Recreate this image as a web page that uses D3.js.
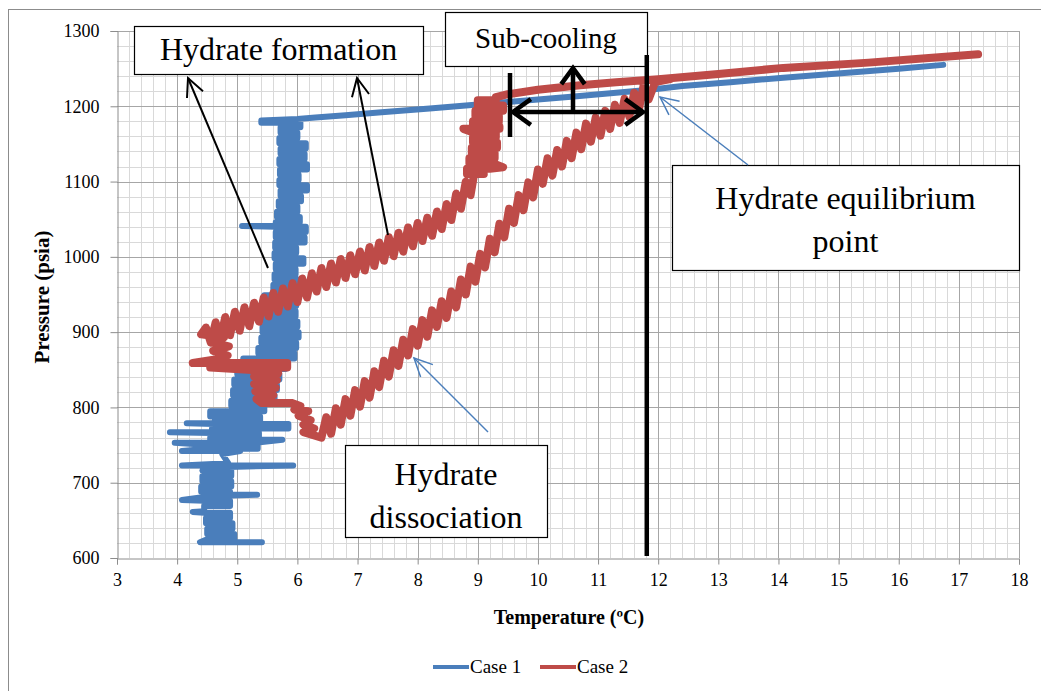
<!DOCTYPE html>
<html>
<head>
<meta charset="utf-8">
<script src="https://cdn.jsdelivr.net/npm/d3@7"></script>
<style>
  html, body { margin: 0; padding: 0; background: #ffffff; }
  svg { display: block; }
  text { font-family: "Liberation Serif", "Times New Roman", serif; fill: #000; }
</style>
</head>
<body>
<svg id="chart" width="1041" height="691"></svg>
<script>
// Axis ticks
const tempTicks = [3, 4, 5, 6, 7, 8, 9, 10, 11, 12, 13, 14, 15, 16, 17, 18];
const pressureTicks = [600, 700, 800, 900, 1000, 1100, 1200, 1300];

const seriesNames = ["Case 1", "Case 2"];
const seriesColors = ["#4A7EBB", "#BE4B48"];

// Case 1 logged readings: [temperature ºC, pressure psia]
const caseOne = [
  [16.74,1255],[16.0,1250],[15.2,1245],[14.08,1238],[13.2,1232],[12.4,1227],[11.86,1222],
  [11.3,1218],[10.6,1213],[10.0,1209],[9.4,1205],[8.8,1201],[8.2,1197],[7.4,1192],[6.8,1188],
  [6.3,1185],[6.0,1183],[5.40,1181],[5.40,1178],[6.05,1178],[6.05,1172],[5.72,1172],[5.72,1165],
  [6.00,1165],[6.00,1158],[5.70,1158],[5.70,1151],[6.14,1151],[6.14,1144],[5.72,1144],[5.72,1137],
  [6.12,1137],[6.12,1130],[5.70,1130],[5.70,1123],[6.16,1123],[6.16,1116],[5.71,1116],[5.71,1109],
  [6.02,1109],[6.02,1102],[5.70,1102],[5.70,1095],[6.16,1095],[6.16,1088],[5.72,1088],[5.72,1081],
  [6.06,1081],[6.06,1074],[5.69,1074],[5.69,1067],[6.00,1067],[6.00,1060],[5.66,1060],[5.66,1053],
  [6.04,1053],[6.04,1046],[5.64,1046],[5.64,1041],[5.08,1041],[5.64,1040],[6.14,1040],[6.14,1033],
  [5.64,1033],[5.64,1026],[6.12,1026],[6.12,1019],[5.63,1019],[5.63,1012],[5.98,1012],[5.98,1005],
  [5.62,1005],[5.62,998],[6.10,998],[6.10,991],[5.64,991],[5.64,984],[5.97,984],[5.97,977],
  [5.62,977],[5.62,970],[6.08,970],[6.08,963],[5.60,963],[5.60,956],[5.98,956],[5.98,949],
  [5.45,949],[5.45,942],[5.98,942],[5.98,935],[5.48,935],[5.48,928],[5.97,928],[5.97,921],
  [5.45,921],[5.45,914],[6.00,914],[6.00,907],[5.42,907],[5.42,900],[6.02,900],[6.02,893],
  [5.40,893],[5.40,886],[5.98,886],[5.98,879],[5.35,879],[5.35,872],[5.95,872],[5.95,865],
  [5.10,865],[5.10,858],[5.80,858],[5.80,851],[5.00,851],[5.00,844],[5.70,844],[5.70,837],
  [4.95,837],[4.95,830],[5.66,830],[5.66,823],[4.93,823],[4.93,816],[5.62,816],[5.62,809],
  [4.90,809],[4.90,802],[5.45,802],[5.45,795],[4.55,795],[4.55,788],[5.38,788],[5.38,781],
  [4.62,781],[4.62,779],[4.16,779],[4.62,778],[5.85,778],[5.85,772],[4.58,772],[4.58,767],
  [3.88,767],[4.58,766],[5.36,766],[5.36,760],[4.55,760],[4.55,757],[5.75,757],[5.30,753],
  [3.96,753],[4.52,750],[5.34,750],[5.34,745],[4.50,745],[4.08,742],[5.05,742],[4.75,738],
  [4.85,726],[4.08,723],[5.93,723],[4.85,721],[4.42,716],[4.90,716],[4.90,709],[4.42,709],
  [4.42,702],[4.90,702],[4.90,695],[4.40,695],[4.40,688],[4.88,688],[4.88,684],[5.33,684],
  [4.88,683],[4.45,681],[4.08,677],[4.45,676],[4.88,676],[4.88,669],[4.45,669],[4.45,662],
  [4.26,661],[4.45,660],[4.88,660],[4.88,653],[4.48,653],[4.48,646],[4.92,646],[4.92,639],
  [4.50,639],[4.50,632],[4.95,632],[4.95,625],[4.50,625],[4.38,621],[5.41,621]
];

// Case 2 logged readings: [temperature ºC, pressure psia]
const caseTwo = [
  [17.32,1269],[16.5,1264],[15.5,1258],[14.08,1251],[13.0,1243],[12.0,1236],[11.3,1232],
  [10.7,1228],[10.0,1222],[9.5,1216],[9.30,1212],[9.30,1208],[9.00,1208],[9.00,1201],[9.42,1201],
  [9.42,1194],[8.96,1194],[8.96,1187],[9.35,1187],[9.35,1180],[8.92,1180],[8.92,1173],[9.36,1173],
  [9.36,1170],[8.76,1170],[8.90,1166],[9.30,1166],[9.30,1159],[8.92,1159],[8.92,1152],[9.32,1152],
  [9.32,1145],[8.90,1145],[8.90,1138],[9.28,1138],[9.28,1131],[8.86,1131],[8.86,1124],[9.26,1124],
  [9.42,1119],[9.20,1117],[8.82,1117],[8.82,1110],[9.10,1110],
  [8.96,1120],[8.88,1082],[8.80,1100],[8.72,1064],[8.64,1084],[8.56,1049],[8.48,1070],[8.40,1037],
  [8.32,1060],[8.24,1028],[8.16,1052],[8.08,1021],[8.00,1045],[7.92,1014],[7.84,1039],[7.76,1007],
  [7.68,1032],[7.60,1001],[7.52,1026],[7.44,995],[7.36,1019],[7.28,988],[7.20,1013],[7.12,982],
  [7.04,1007],[6.96,977],[6.88,1002],[6.80,972],[6.72,997],[6.64,966],[6.56,991],[6.48,960],
  [6.40,985],[6.32,954],[6.24,978],[6.16,946],[6.08,971],[6.00,940],[5.92,965],[5.84,934],
  [5.76,958],[5.68,927],[5.60,952],[5.52,921],[5.44,946],[5.36,914],[5.28,939],[5.20,908],
  [5.12,933],[5.04,902],[4.96,927],[4.88,896],[4.80,920],[4.72,890],[4.64,913],[4.56,886],
  [4.48,906],[4.40,897],
  [4.78,893],[4.60,886],[4.86,881],[4.60,875],[4.84,869],[4.66,864],[4.26,859],[5.83,859],
  [5.83,853],[4.55,853],[5.40,849],[5.68,845],[5.28,841],[5.66,836],[5.28,831],[5.64,826],
  [5.30,821],[5.60,816],[5.32,811],[5.40,806],[5.90,806],[6.05,802],[5.95,797],[6.18,795],
  [6.02,789],[6.22,783],[6.10,777],[6.28,772],[6.10,767],
  [6.40,760],[6.48,787],[6.56,765],[6.64,799],[6.72,777],[6.80,811],[6.88,789],[6.96,823],
  [7.04,801],[7.12,835],[7.20,813],[7.28,848],[7.36,827],[7.44,862],[7.52,841],[7.60,876],
  [7.68,855],[7.76,890],[7.84,869],[7.92,904],[8.00,882],[8.08,916],[8.16,894],[8.24,929],
  [8.32,907],[8.40,941],[8.48,919],[8.56,954],[8.64,933],[8.72,970],[8.80,950],[8.88,987],
  [8.96,967],[9.04,1004],[9.12,986],[9.20,1024],[9.28,1006],[9.36,1044],[9.44,1026],[9.52,1064],
  [9.60,1045],[9.68,1082],[9.76,1062],[9.84,1099],[9.92,1079],[10.00,1116],[10.08,1097],[10.16,1131],
  [10.24,1108],[10.32,1142],[10.40,1120],[10.48,1154],[10.56,1131],[10.64,1165],[10.72,1143],[10.80,1177],
  [10.88,1153],[10.96,1185],[11.04,1161],[11.12,1194],[11.20,1170],[11.28,1202],[11.36,1178],[11.44,1210],
  [11.52,1186],[11.60,1218],[11.68,1196],[11.76,1229],[11.84,1209],[11.95,1232],[12.20,1236]
];

const seriesData = [caseOne, caseTwo];
const seriesWidths = [6, 8];

// Hydrate equilibrium temperature marker
const equilibriumTemp = 11.81;

const svg = d3.select("#chart");
const W = 1041, H = 691;
const plot = { left: 117, right: 1019, top: 31, bottom: 558 };

const x = d3.scaleLinear().domain([3, 18]).range([plot.left, plot.right]);
const y = d3.scaleLinear().domain([600, 1300]).range([plot.bottom, plot.top]);

// Outer chart frame
svg.append("rect")
  .attr("x", 8.5).attr("y", 9.5).attr("width", W + 20).attr("height", H + 20)
  .attr("fill", "#fff").attr("stroke", "#8c8c8c").attr("stroke-width", 1);

// Grid: minor then major
const grid = svg.append("g");
const minorX = d3.range(3, 18.001, 0.2).filter(v => Math.abs(v - Math.round(v)) > 1e-6);
const minorY = d3.range(600, 1300.001, 20).filter(v => v % 100 !== 0);
grid.selectAll(".mx").data(minorX).join("line")
  .attr("x1", d => Math.round(x(d)) + 0.5).attr("x2", d => Math.round(x(d)) + 0.5)
  .attr("y1", plot.top).attr("y2", plot.bottom)
  .attr("stroke", "#d9d9d9").attr("stroke-width", 1);
grid.selectAll(".my").data(minorY).join("line")
  .attr("y1", d => Math.round(y(d)) + 0.5).attr("y2", d => Math.round(y(d)) + 0.5)
  .attr("x1", plot.left).attr("x2", plot.right)
  .attr("stroke", "#d9d9d9").attr("stroke-width", 1);
grid.selectAll(".Mx").data(tempTicks.slice(1)).join("line")
  .attr("x1", d => Math.round(x(d)) + 0.5).attr("x2", d => Math.round(x(d)) + 0.5)
  .attr("y1", plot.top).attr("y2", plot.bottom)
  .attr("stroke", "#a6a6a6").attr("stroke-width", 1);
grid.selectAll(".My").data(pressureTicks.slice(1)).join("line")
  .attr("y1", d => Math.round(y(d)) + 0.5).attr("y2", d => Math.round(y(d)) + 0.5)
  .attr("x1", plot.left).attr("x2", plot.right)
  .attr("stroke", "#a6a6a6").attr("stroke-width", 1);

// Axes
const xAxis = d3.axisBottom(x).tickValues(tempTicks).tickSize(6).tickPadding(9).tickFormat(d3.format("d"));
const yAxis = d3.axisLeft(y).tickValues(pressureTicks).tickSize(7).tickPadding(11).tickFormat(d3.format("d"));

const gx = svg.append("g").attr("transform", `translate(0,${plot.bottom + 0.5})`).call(xAxis);
const gy = svg.append("g").attr("transform", `translate(${plot.left + 0.5},0)`).call(yAxis);
[gx, gy].forEach(g => {
  g.select(".domain").attr("stroke", "#8c8c8c");
  g.selectAll(".tick line").attr("stroke", "#8c8c8c");
  g.selectAll(".tick text").attr("font-family", "Liberation Serif").attr("font-size", 18).attr("fill", "#000");
});

// Axis titles
svg.append("text")
  .attr("x", 569).attr("y", 624).attr("text-anchor", "middle")
  .attr("font-size", 20).attr("font-weight", "bold")
  .text("Temperature (ºC)");
svg.append("text")
  .attr("transform", `translate(49,${297}) rotate(-90)`).attr("text-anchor", "middle")
  .attr("font-size", 21).attr("font-weight", "bold")
  .text("Pressure (psia)");

// Series
const line = d3.line().x(d => x(d[0])).y(d => y(d[1]));
seriesData.forEach((data, i) => {
  svg.append("path")
    .datum(data)
    .attr("d", line)
    .attr("fill", "none")
    .attr("stroke", seriesColors[i])
    .attr("stroke-width", seriesWidths[i])
    .attr("stroke-linejoin", "round")
    .attr("stroke-linecap", "round");
});

// Annotation helpers
const ann = svg.append("g");
function arrow(x1, y1, x2, y2, color, width, head, spread) {
  const a = Math.atan2(y2 - y1, x2 - x1);
  const s = spread || Math.PI / 6;
  ann.append("line").attr("x1", x1).attr("y1", y1).attr("x2", x2).attr("y2", y2)
    .attr("stroke", color).attr("stroke-width", width);
  const p1 = [x2 - head * Math.cos(a - s), y2 - head * Math.sin(a - s)];
  const p2 = [x2 - head * Math.cos(a + s), y2 - head * Math.sin(a + s)];
  ann.append("path").attr("d", `M${p1[0]},${p1[1]}L${x2},${y2}L${p2[0]},${p2[1]}`)
    .attr("fill", "none").attr("stroke", color).attr("stroke-width", width)
    .attr("stroke-linejoin", "miter");
}
function box(x0, y0, w, h, lines, size, lineGap) {
  ann.append("rect").attr("x", x0 + 0.5).attr("y", y0 + 0.5).attr("width", w).attr("height", h)
    .attr("fill", "#fff").attr("stroke", "#000").attr("stroke-width", 1.2);
  lines.forEach((t, i) => {
    ann.append("text").attr("x", x0 + w / 2).attr("y", y0 + lineGap[i])
      .attr("text-anchor", "middle").attr("font-size", size).text(t);
  });
}

// Hydrate formation
box(134, 26, 289, 48, ["Hydrate formation"], 32, [34]);
arrow(268, 268, 188, 78, "#000", 2, 20, Math.PI / 7);
arrow(388, 235, 357, 78, "#000", 2, 20, Math.PI / 7);

// Sub-cooling
box(445, 12, 202, 54, ["Sub-cooling"], 29, [36]);
ann.append("line").attr("x1", x(equilibriumTemp)).attr("x2", x(equilibriumTemp))
  .attr("y1", 55).attr("y2", 556).attr("stroke", "#000").attr("stroke-width", 4.5);
ann.append("line").attr("x1", 510).attr("x2", 510).attr("y1", 73).attr("y2", 137)
  .attr("stroke", "#000").attr("stroke-width", 4.5);
arrow(573, 112, 513, 112, "#000", 4.5, 22, Math.PI / 5);
arrow(573, 112, 643, 112, "#000", 4.5, 22, Math.PI / 5);
arrow(573, 112, 573, 68, "#000", 4.5, 20, Math.PI / 5);

// Hydrate equilibrium point
box(672, 165, 347, 105, ["Hydrate equilibrium", "point"], 32, [44, 87]);
arrow(748, 165, 660, 97, "#4A7EBB", 1.5, 20, Math.PI / 7);

// Hydrate dissociation
box(345, 445, 202, 92, ["Hydrate", "dissociation"], 32, [40, 83]);
arrow(488, 432, 414, 358, "#4A7EBB", 1.5, 20, Math.PI / 7);

// Legend
const legend = svg.append("g").attr("transform", "translate(0,667)");
const legendPos = [433, 540];
seriesNames.forEach((name, i) => {
  legend.append("line").attr("x1", legendPos[i]).attr("x2", legendPos[i] + 36)
    .attr("y1", 0).attr("y2", 0).attr("stroke", seriesColors[i]).attr("stroke-width", 4);
  legend.append("text").attr("x", legendPos[i] + 37).attr("y", 6)
    .attr("font-size", 19).text(name);
});
</script>
</body>
</html>
